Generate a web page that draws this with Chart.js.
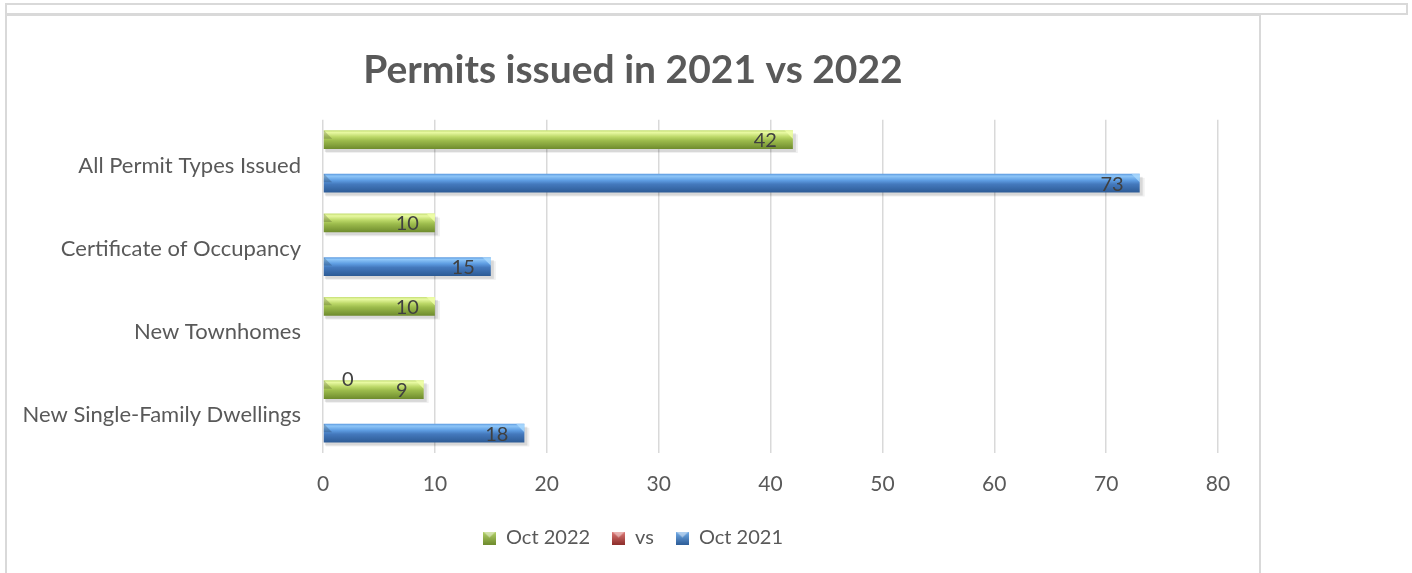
<!DOCTYPE html>
<html>
<head>
<meta charset="utf-8">
<script src="https://cdn.jsdelivr.net/npm/chart.js@4.4.0/dist/chart.umd.min.js"></script>
<style>
  body { margin:0; background:#fff; width:1412px; height:573px; overflow:hidden; position:relative; }
  #strip { position:absolute; left:5px; top:3px; width:1399px; height:8px; border:2px solid #d9d9d9; }
  #frame { position:absolute; left:5px; top:14px; width:1252px; height:570px; border:2px solid #d9d9d9; border-bottom:none; }
  #wrap { position:absolute; left:7px; top:17px; width:1252px; height:556px; }
</style>
</head>
<body>
<div id="strip"></div>
<div id="frame"></div>
<div id="wrap"><canvas id="chart"></canvas></div>
<script>
var categories = ['All Permit Types Issued', 'Certificate of Occupancy', 'New Townhomes', 'New Single-Family Dwellings'];
var oct2022 = [42, 10, 10, 9];
var vsData = [null, null, null, null];
var oct2021 = [73, 15, 0, 18];
var xTicks = [0, 10, 20, 30, 40, 50, 60, 70, 80];

var textColor = '#595959';
var fontFamily = 'Lato, "Open Sans", sans-serif';

// gradient stops for the bevelled bars
var barStops = {
  0: [['0', '#c3dd72'], ['0.12', '#e8f9a2'], ['0.35', '#bcd868'], ['0.55', '#9cbb4c'], ['1', '#6e8b2d']],
  1: [['0', '#b04744'], ['0.15', '#e88a87'], ['0.5', '#c0504d'], ['1', '#7c2a28']],
  2: [['0', '#5a98de'], ['0.12', '#8ec6f8'], ['0.35', '#5e9de2'], ['0.55', '#4479bd'], ['1', '#2d5b95']]
};
var capColor = { 0: 'rgba(240,255,170,0.8)', 1: 'rgba(255,180,180,0.6)', 2: 'rgba(175,220,255,0.75)' };
var keyColor = { 0: ['#b5d36a', '#6f8c2e'], 1: ['#e07b78', '#8e2f2c'], 2: ['#73aeea', '#2f5e99'] };

// little bevelled squares for the legend
function legendMarker(di) {
  var c = document.createElement('canvas');
  c.width = 13; c.height = 13;
  var x = c.getContext('2d');
  var g = x.createLinearGradient(0, 0, 0, 13);
  g.addColorStop(0, keyColor[di][0]);
  g.addColorStop(1, keyColor[di][1]);
  x.fillStyle = g;
  x.fillRect(0, 0, 13, 13);
  x.fillStyle = 'rgba(255,255,255,0.45)';
  x.beginPath();
  x.moveTo(0, 0); x.lineTo(13, 0); x.lineTo(6.5, 6); x.closePath();
  x.fill();
  return c;
}

var bevelPlugin = {
  id: 'bevel',
  beforeDatasetsDraw: function(chart) {
    var ctx = chart.ctx;
    chart.data.datasets.forEach(function(ds, di) {
      var meta = chart.getDatasetMeta(di);
      meta.data.forEach(function(el, i) {
        var v = ds.data[i];
        if (v === null || v === 0) return;
        var top = el.y - el.height / 2;
        var g = ctx.createLinearGradient(0, top, 0, top + el.height);
        barStops[di].forEach(function(s) { g.addColorStop(parseFloat(s[0]), s[1]); });
        el.options = Object.assign({}, el.options, { backgroundColor: g });
        // soft shadow under the bar
        ctx.save();
        ctx.fillStyle = 'rgba(0,0,0,0.10)';
        ctx.fillRect(el.base + 1, top + 3, el.x - el.base + 2, el.height);
        ctx.fillStyle = 'rgba(0,0,0,0.06)';
        ctx.fillRect(el.base + 2, top + 4, el.x - el.base + 3, el.height);
        ctx.restore();
      });
    });
  },
  afterDatasetsDraw: function(chart) {
    var ctx = chart.ctx;
    chart.data.datasets.forEach(function(ds, di) {
      var meta = chart.getDatasetMeta(di);
      meta.data.forEach(function(el, i) {
        var v = ds.data[i];
        if (v === null) return;
        var top = el.y - el.height / 2;
        var h = el.height;
        if (v !== 0) {
          // end caps
          ctx.save();
          ctx.fillStyle = capColor[di];
          ctx.beginPath();
          ctx.moveTo(el.x - h * 0.45, top);
          ctx.lineTo(el.x, top);
          ctx.lineTo(el.x, top + h * 0.45);
          ctx.closePath();
          ctx.fill();
          ctx.fillStyle = 'rgba(0,0,0,0.18)';
          ctx.beginPath();
          ctx.moveTo(el.base, top);
          ctx.lineTo(el.base + h * 0.45, top + h * 0.45);
          ctx.lineTo(el.base, top + h * 0.45);
          ctx.closePath();
          ctx.fill();
          ctx.restore();
        }
        // value label, inside end
        ctx.save();
        ctx.font = '20px ' + fontFamily;
        ctx.fillStyle = '#404040';
        ctx.textBaseline = 'middle';
        if (v === 0) {
          ctx.textAlign = 'left';
          ctx.fillText(String(v), el.base + 19, el.y + 30);
        } else {
          ctx.textAlign = 'right';
          ctx.fillText(String(v), el.x - 16, el.y + 1);
        }
        ctx.restore();
      });
    });
  }
};

var chart = new Chart(document.getElementById('chart'), {
  type: 'bar',
  data: {
    labels: categories,
    datasets: [
      { label: 'Oct 2022', data: oct2022, backgroundColor: '#9bbb59', pointStyle: legendMarker(0) },
      { label: 'vs', data: vsData, backgroundColor: '#c0504d', pointStyle: legendMarker(1) },
      { label: 'Oct 2021', data: oct2021, backgroundColor: '#4f81bd', pointStyle: legendMarker(2) }
    ]
  },
  options: {
    indexAxis: 'y',
    responsive: true,
    maintainAspectRatio: false,
    animation: false,
    categoryPercentage: 0.784,
    barPercentage: 0.86,
    layout: { padding: { left: 0, right: 0, top: 0, bottom: 15 } },
    scales: {
      x: {
        min: 0, max: 80,
        afterBuildTicks: function(scale) {
          scale.ticks = xTicks.map(function(v) { return { value: v }; });
        },
        afterFit: function(scale) { scale.height = 53; },
        grid: { color: '#d9d9d9', lineWidth: 1.5, drawTicks: false },
        border: { display: false },
        ticks: { color: textColor, padding: 19, font: { family: fontFamily, size: 21 } }
      },
      y: {
        afterFit: function(scale) { scale.width = 316; },
        grid: { display: false },
        border: { display: false },
        ticks: { color: textColor, padding: 14, labelOffset: 4, font: { family: fontFamily, size: 22 } }
      },
      // empty right-hand axis, only keeps the gap right of the plot
      yRight: {
        type: 'linear',
        axis: 'y',
        position: 'right',
        afterFit: function(scale) { scale.width = 41; },
        grid: { display: false },
        border: { display: false },
        ticks: { display: false }
      }
    },
    plugins: {
      title: {
        display: true,
        text: 'Permits issued in 2021 vs 2022',
        color: textColor,
        font: { family: fontFamily, size: 39, weight: 'bold' },
        padding: { top: 30, bottom: 26 }
      },
      legend: {
        position: 'bottom',
        labels: {
          color: textColor,
          usePointStyle: true,
          boxWidth: 13,
          boxHeight: 13,
          padding: 22,
          font: { family: fontFamily, size: 20 }
        }
      },
      tooltip: { enabled: false }
    }
  },
  plugins: [bevelPlugin]
});
</script>
</body>
</html>
